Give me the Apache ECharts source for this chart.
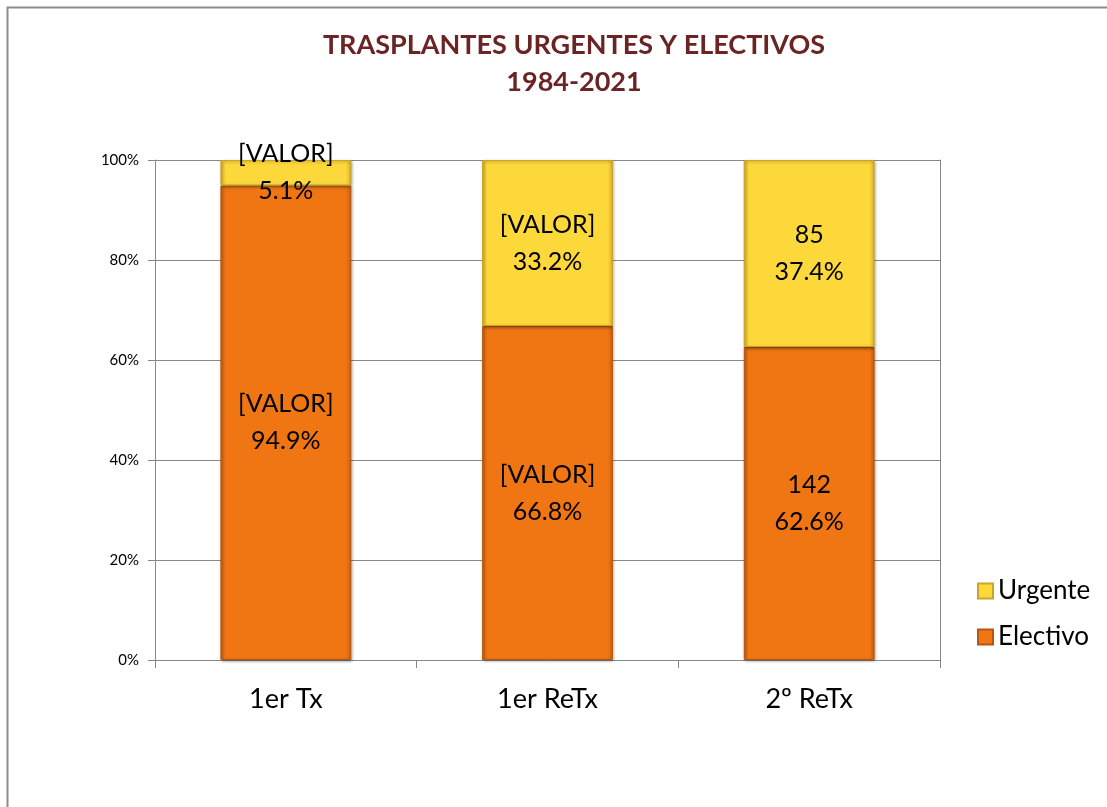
<!DOCTYPE html>
<html>
<head>
<meta charset="utf-8">
<script src="https://cdn.jsdelivr.net/npm/echarts@6/dist/echarts.min.js"></script>
<style>
  html, body { margin: 0; padding: 0; background: #fff; }
  #main { width: 1107px; height: 807px; }
</style>
</head>
<body>
<div id="main"></div>
<script>
var categories = ['1er Tx', '1er ReTx', '2º ReTx'];
var urgentePct = [5.1, 33.2, 37.4];
var electivoPct = [94.9, 66.8, 62.6];
// texto de la etiqueta encima del porcentaje
var urgenteLbl = ['[VALOR]', '[VALOR]', '85'];
var electivoLbl = ['[VALOR]', '[VALOR]', '142'];
var yTicks = [0, 20, 40, 60, 80, 100];

var FONT = 'Lato, "Noto Sans", sans-serif';

function bevel(main, edge) {
    return new echarts.graphic.LinearGradient(0, 0, 1, 0, [
        {offset: 0, color: edge},
        {offset: 0.04, color: main},
        {offset: 0.96, color: main},
        {offset: 1, color: edge}
    ]);
}

var chartDom = document.getElementById('main');
var myChart = echarts.init(chartDom);

var option = {
    animation: false,
    textStyle: {fontFamily: FONT},
    graphic: [
        {
            type: 'rect',
            shape: {x: 7.5, y: 7.5, width: 1120, height: 820},
            style: {fill: 'none', stroke: '#8c8c8c', lineWidth: 2}
        },
        {
            type: 'text', x: 574, y: 45,
            style: {text: 'TRASPLANTES URGENTES Y ELECTIVOS', align: 'center', verticalAlign: 'middle',
                fill: '#6b2424', font: 'bold 27px ' + FONT}
        },
        {
            type: 'text', x: 574, y: 82,
            style: {text: '1984-2021', align: 'center', verticalAlign: 'middle',
                fill: '#6b2424', font: 'bold 27px ' + FONT}
        }
    ],
    legend: {
        orient: 'vertical',
        left: 972,
        top: 573,
        icon: 'rect',
        itemWidth: 15,
        itemHeight: 15,
        itemGap: 20,
        textStyle: {fontSize: 26, color: '#000', fontFamily: FONT},
        data: ['Urgente', 'Electivo']
    },
    grid: {left: 155, right: 167, top: 160, bottom: 147},
    xAxis: {
        type: 'category',
        data: categories,
        axisLine: {lineStyle: {color: '#888', width: 1}},
        axisTick: {show: true, length: 8, lineStyle: {color: '#888'}},
        axisLabel: {fontSize: 27, color: '#000', margin: 26, fontFamily: FONT}
    },
    yAxis: [
        {
            type: 'value',
            min: 0, max: 100, interval: 20,
            axisLine: {show: true, lineStyle: {color: '#888'}},
            axisTick: {show: true, length: 7, lineStyle: {color: '#888'}},
            axisLabel: {formatter: '{value}%', fontSize: 15, color: '#000', margin: 16, fontFamily: FONT},
            splitLine: {lineStyle: {color: '#888', width: 1}}
        },
        {
            type: 'value',
            position: 'right',
            min: 0, max: 100, interval: 20,
            axisLine: {show: true, lineStyle: {color: '#888'}},
            axisTick: {show: false},
            axisLabel: {show: false},
            splitLine: {show: false}
        }
    ],
    series: [
        {
            name: 'Electivo',
            type: 'bar',
            stack: 'tot',
            barWidth: '50%',
            data: electivoPct,
            itemStyle: {
                color: bevel('#f07613', '#c9600e'),
                borderColor: '#b8560c',
                borderWidth: 1,
                shadowColor: 'rgba(0,0,0,0.35)',
                shadowBlur: 3,
                shadowOffsetX: 1,
                shadowOffsetY: 1
            },
            label: {
                show: true,
                position: 'inside',
                fontSize: 25,
                lineHeight: 37,
                color: '#000',
                fontFamily: FONT,
                formatter: function (p) {
                    return electivoLbl[p.dataIndex] + '\n' + p.value.toFixed(1) + '%';
                }
            }
        },
        {
            name: 'Urgente',
            type: 'bar',
            stack: 'tot',
            barWidth: '50%',
            data: urgentePct,
            itemStyle: {
                color: bevel('#fdd83a', '#d9b22c'),
                borderColor: '#c9a428',
                borderWidth: 1,
                shadowColor: 'rgba(0,0,0,0.35)',
                shadowBlur: 3,
                shadowOffsetX: 1,
                shadowOffsetY: 1
            },
            label: {
                show: true,
                position: 'inside',
                fontSize: 25,
                lineHeight: 37,
                color: '#000',
                fontFamily: FONT,
                formatter: function (p) {
                    return urgenteLbl[p.dataIndex] + '\n' + p.value.toFixed(1) + '%';
                }
            }
        }
    ]
};

option && myChart.setOption(option);
</script>
</body>
</html>
